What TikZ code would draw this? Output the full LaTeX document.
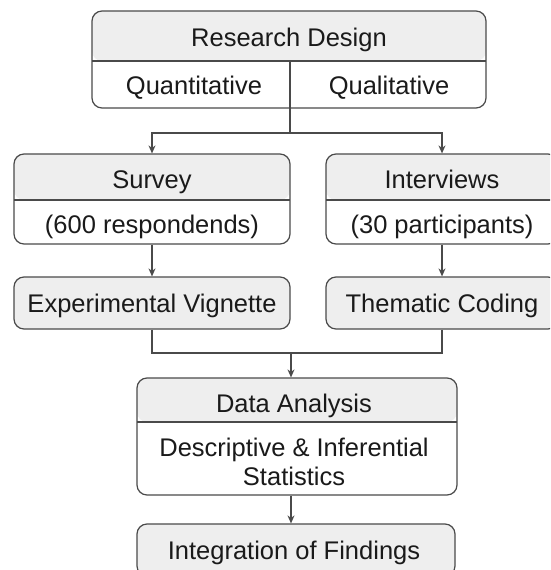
\documentclass[tikz,border=0pt]{standalone}
\usepackage{fontspec}
\setmainfont{Liberation Sans}
\usetikzlibrary{arrows.meta,calc}
\definecolor{hdr}{HTML}{EEEEEE}
\definecolor{edge}{HTML}{4A4A4A}
\definecolor{ink}{HTML}{1A1A1A}
\begin{document}
\begin{tikzpicture}[x=1pt,y=-1pt,
  font=\fontsize{25.5}{29}\selectfont, text=ink,
  boxbase/.style={draw=edge, line width=1.2pt, rounded corners=10pt, inner sep=0pt},
  plainbox/.style={boxbase, fill=hdr},
  splitbox/.style={boxbase, fill=white,
    path picture={\fill[hdr] (path picture bounding box.north west) rectangle ([yshift=-#1]path picture bounding box.north east);
      \draw[edge, line width=1.2pt] ([yshift=-#1]path picture bounding box.north west) -- ([yshift=-#1]path picture bounding box.north east);}},
  lbl/.style={inner sep=0pt, anchor=center, text height=18.3pt, text depth=0pt},
  conn/.style={draw=edge, line width=1.2pt},
  arr/.style={conn, -{Stealth[length=8pt,width=7pt]}}
]
\useasboundingbox (0,0) rectangle (550,570);
\clip (0,0) rectangle (550,570);
\fill[white] (0,0) rectangle (550,570);

% Research Design
\node[splitbox=50pt, minimum width=394pt, minimum height=97pt] (rd) at (289,59.5) {};
\draw[conn] (290,61) -- (290,108);
\node[lbl] (rdt) at (289,37) {Research Design};
\node[lbl] (quan) at (194,85) {Quantitative};
\node[lbl] (qual) at (389,85) {Qualitative};

% Survey / Interviews
\node[splitbox=46pt, minimum width=276pt, minimum height=90pt] (sv) at (152,199) {};
\node[lbl] (svt) at (152,179.5) {Survey};
\node[lbl] (svn) at (152,224) {(600 respondends)};
\node[splitbox=46pt, minimum width=232pt, minimum height=90pt] (iv) at (442,199) {};
\node[lbl] (ivt) at (442,179.5) {Interviews};
\node[lbl] (ivn) at (442,224) {(30 participants)};

% Experimental / Thematic
\node[plainbox, minimum width=276pt, minimum height=52pt] (ev) at (152,303) {};
\node[lbl] (evt) at (152,303.5) {Experimental Vignette};
\node[plainbox, minimum width=232pt, minimum height=52pt] (tc) at (442,303) {};
\node[lbl] (tct) at (442,303.5) {Thematic Coding};

% Data Analysis
\node[splitbox=44pt, minimum width=320pt, minimum height=117pt] (da) at (297,436.5) {};
\node[lbl] (dat) at (294,403) {Data Analysis};
\node[inner sep=0pt, align=center, font=\fontsize{25.5}{29}\selectfont] (dad) at (294,462) {Descriptive \& Inferential\\Statistics};

% Integration
\node[plainbox, minimum width=318pt, minimum height=52pt] (ig) at (296,550) {};
\node[lbl] (igt) at (294,550) {Integration of Findings};

% connectors
\coordinate (j1) at (290,133);
\draw[conn] (290,108) -- (j1);
\draw[arr] (j1) -| (sv.north);
\draw[arr] (j1) -| (iv.north);
\draw[arr] (sv.south) -- (ev.north);
\draw[arr] (iv.south) -- (tc.north);
\coordinate (j2) at (291,353);
\draw[conn] (ev.south) |- (j2);
\draw[conn] (tc.south) |- (j2);
\draw[arr] (j2) -- (j2 |- da.north);
\draw[arr] (da.south -| j2) -- (ig.north -| j2);
\end{tikzpicture}
\end{document}
